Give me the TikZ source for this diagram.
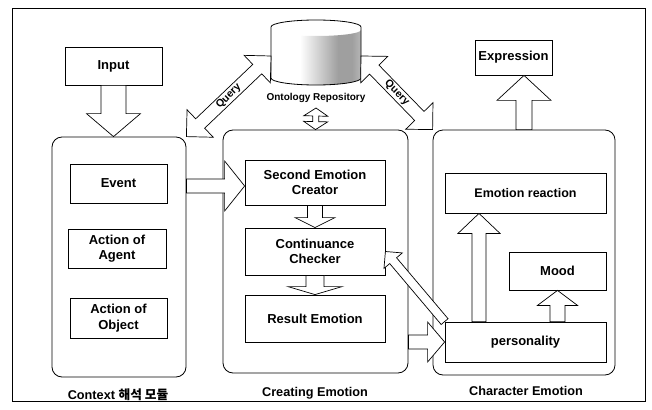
\documentclass[tikz,border=0pt]{standalone}
\usepackage{fontspec}
\setmainfont{Liberation Sans}
\newfontfamily\kr{Noto Sans CJK KR}
\usetikzlibrary{calc}
\newcommand\blockarr[5]{%
  \coordinate (bah) at ($(#2)!#5!(#1)$);
  \draw[arrowline] ($(#1)!#3!90:(#2)$) -- ($(bah)!#3!90:(#2)$) -- ($(bah)!#4!90:(#2)$) -- (#2) -- ($(bah)!#4!-90:(#2)$) -- ($(bah)!#3!-90:(#2)$) -- ($(#1)!#3!-90:(#2)$) -- cycle;
}
\newcommand\dblarr[5]{%
  \coordinate (bhA) at ($(#1)!#5!(#2)$);
  \coordinate (bhB) at ($(#2)!#5!(#1)$);
  \draw[arrowline] (#1) -- ($(bhA)!#4!90:(#2)$) -- ($(bhA)!#3!90:(#2)$) -- ($(bhB)!#3!90:(#2)$) -- ($(bhB)!#4!90:(#2)$) -- (#2) -- ($(bhB)!#4!-90:(#2)$) -- ($(bhB)!#3!-90:(#2)$) -- ($(bhA)!#3!-90:(#2)$) -- ($(bhA)!#4!-90:(#2)$) -- cycle;
}
\begin{document}
\begin{tikzpicture}[x=1pt,y=-1pt,
  box/.style={draw, line width=0.8pt, fill=white, align=center, inner sep=1pt,
    font=\fontsize{13}{15.5}\selectfont\bfseries},
  group/.style={draw, line width=0.8pt, rounded corners=10pt},
  arrowline/.style={draw, line width=0.7pt, fill=white, line join=miter},
  caption/.style={font=\fontsize{12.7}{14}\selectfont\bfseries},
  qlabel/.style={font=\fontsize{10.5}{11}\selectfont\bfseries, inner sep=0pt}]
\useasboundingbox (0,0) rectangle (652,409);
\draw[line width=0.8pt] (12,8) rectangle (645,401);

% groups
\node[group, minimum width=134pt, minimum height=240pt] (ctx) at (119,257) {};
\node[group, minimum width=185pt, minimum height=243pt] (create) at (315.5,251.5) {};
\node[group, minimum width=182pt, minimum height=245pt] (char) at (524,252.5) {};

% cylinder
\begin{scope}
\clip (271,30) -- (271,78) arc[start angle=180, end angle=0, x radius=45, y radius=7] -- (361,30) arc[start angle=0, end angle=180, x radius=45, y radius=6] -- cycle;
\shade[left color=white, right color=gray!75] (300,20) rectangle (338,90);
\fill[gray!75] (338,20) rectangle (352,90);
\shade[left color=gray!75, right color=gray!55] (352,20) rectangle (362,90);
\shade[top color=white, bottom color=white, opacity=0] (271,20) rectangle (361,40);
\end{scope}
\draw[line width=0.8pt] (271,78) -- (271,27) arc[start angle=180, end angle=360, x radius=45, y radius=7] -- (361,78) arc[start angle=0, end angle=180, x radius=45, y radius=7];
\coordinate (repoL) at (271,56);
\coordinate (repoR) at (361,56);
\node[font=\fontsize{10}{11}\selectfont\bfseries, inner sep=1pt] (ontlab) at (316,98) {Ontology Repository};
\coordinate (ontB) at (316,108);

% boxes
\node[box, minimum width=97pt, minimum height=38pt] (input) at (113.5,66) {Input};
\node[box, minimum width=77pt, minimum height=35pt] (expr) at (513.5,57.5) {Expression};
\node[box, minimum width=97pt, minimum height=39pt] (event) at (118.5,183.5) {Event};
\node[box, minimum width=98pt, minimum height=39pt] (agent) at (117,248.5) {Action of\\Agent};
\node[box, minimum width=97pt, minimum height=40pt] (object) at (118.5,318) {Action of\\Object};
\node[box, minimum width=140pt, minimum height=45pt] (second) at (315,182.5) {Second Emotion\\Creator};
\node[box, minimum width=140pt, minimum height=47pt] (checker) at (315,251.5) {Continuance\\Checker};
\node[box, minimum width=140pt, minimum height=47pt] (result) at (315,318.5) {Result Emotion};
\node[box, minimum width=161pt, minimum height=40pt, font=\fontsize{12.5}{14}\selectfont\bfseries] (reaction) at (525.5,193) {Emotion reaction};
\node[box, minimum width=97pt, minimum height=38pt] (mood) at (557.5,271) {Mood};
\node[box, minimum width=161pt, minimum height=40pt] (pers) at (525.5,342) {personality};

% captions
\node[caption] (capctx) at (118,395) {Context {\kr 해석 모듈}};
\node[caption] (capcre) at (315,393) {Creating Emotion};
\node[caption] (capchar) at (526,391) {Character Emotion};

% arrows
\coordinate (evy) at (0,186);
\blockarr{input.south}{input.south |- ctx.north}{12.5pt}{27pt}{23pt}
\blockarr{ctx.east |- evy}{second.west |- evy}{7pt}{25pt}{20pt}
\blockarr{second.south}{checker.north}{7.5pt}{20pt}{10pt}
\blockarr{checker.south}{result.north}{9pt}{27pt}{8pt}
\blockarr{create.east |- pers.west}{pers.west}{7pt}{20pt}{17pt}
\blockarr{char.north}{char.north |- expr.south}{8pt}{27pt}{25pt}
\coordinate (prx) at (479,0);
\blockarr{prx |- pers.north}{prx |- reaction.south}{7pt}{21pt}{20pt}
\blockarr{mood.south |- pers.north}{mood.south}{7.5pt}{20pt}{15pt}
\blockarr{pers.north west}{checker.east}{4.5pt}{12pt}{12pt}
\dblarr{ctx.north east}{repoL}{6.5pt}{19pt}{19pt}
\dblarr{repoR}{char.north west}{6.5pt}{19pt}{19pt}
\dblarr{ontB}{create.north}{3pt}{12pt}{8pt}
\node[qlabel, rotate=45] (q1) at ($(ctx.north east)!0.5!(repoL)$) {Query};
\node[qlabel, rotate=-45] (q2) at ($(repoR)!0.5!(char.north west)$) {Query};
\end{tikzpicture}
\end{document}
